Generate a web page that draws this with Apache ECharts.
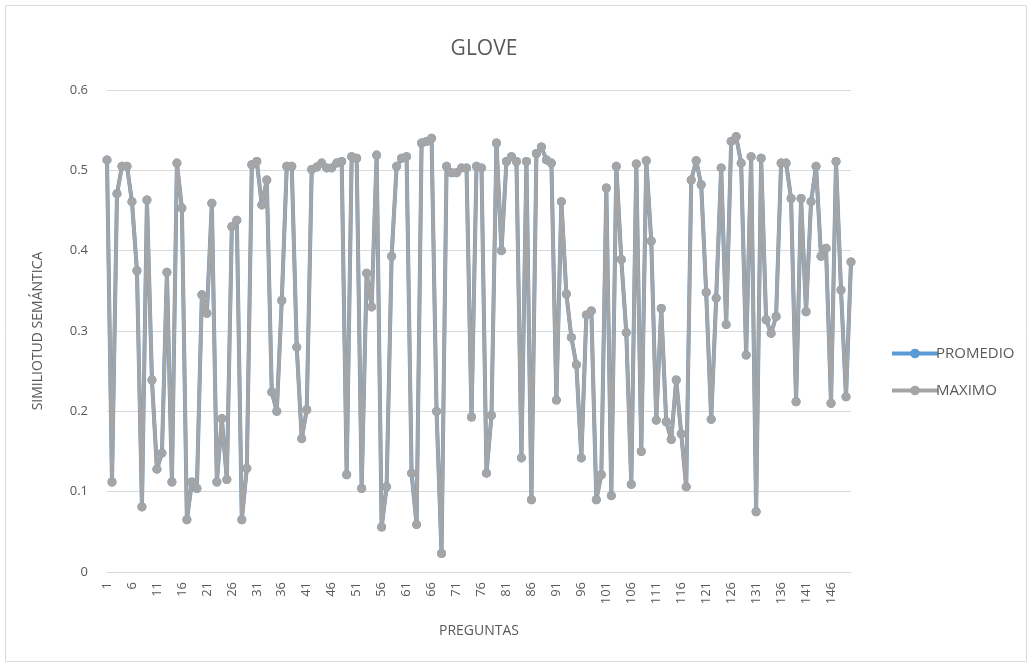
<!DOCTYPE html>
<html>
<head>
<meta charset="utf-8">
<script src="https://cdn.jsdelivr.net/npm/echarts@6/dist/echarts.min.js"></script>
<style>
  html, body { margin: 0; padding: 0; background: #fff; }
  #chart { width: 1032px; height: 667px; }
</style>
</head>
<body>
<div id="chart"></div>
<script>
// datos
var maximo = [
    0.513, 0.112, 0.471, 0.505, 0.505, 0.461, 0.375, 0.081, 0.463, 0.239,
    0.128, 0.148, 0.373, 0.112, 0.509, 0.453, 0.065, 0.112, 0.104, 0.345,
    0.322, 0.459, 0.112, 0.191, 0.115, 0.430, 0.438, 0.065, 0.129, 0.507,
    0.511, 0.457, 0.488, 0.224, 0.200, 0.338, 0.505, 0.505, 0.280, 0.166,
    0.202, 0.501, 0.504, 0.509, 0.503, 0.503, 0.509, 0.511, 0.121, 0.517,
    0.515, 0.104, 0.372, 0.330, 0.519, 0.056, 0.106, 0.393, 0.505, 0.515,
    0.517, 0.123, 0.059, 0.534, 0.536, 0.540, 0.200, 0.023, 0.505, 0.497,
    0.497, 0.503, 0.503, 0.193, 0.505, 0.503, 0.123, 0.195, 0.534, 0.400,
    0.511, 0.517, 0.511, 0.142, 0.511, 0.090, 0.521, 0.529, 0.513, 0.509,
    0.214, 0.461, 0.346, 0.292, 0.258, 0.142, 0.320, 0.325, 0.090, 0.121,
    0.478, 0.095, 0.505, 0.389, 0.298, 0.109, 0.508, 0.150, 0.512, 0.412,
    0.189, 0.328, 0.187, 0.165, 0.239, 0.172, 0.106, 0.488, 0.512, 0.482,
    0.348, 0.190, 0.341, 0.503, 0.308, 0.536, 0.542, 0.509, 0.270, 0.517,
    0.075, 0.515, 0.314, 0.297, 0.318, 0.509, 0.509, 0.465, 0.212, 0.465,
    0.324, 0.461, 0.505, 0.393, 0.403, 0.210, 0.511, 0.351, 0.218, 0.386
];
// el promedio queda oculto bajo el maximo
var promedio = maximo.slice();

var preguntas = [];
for (var i = 1; i <= maximo.length; i++) {
    preguntas.push(String(i));
}

var yTicks = ['0', '0.1', '0.2', '0.3', '0.4', '0.5', '0.6'];

var chart = echarts.init(document.getElementById('chart'));

var option = {
    animation: false,
    textStyle: {
        fontFamily: 'Open Sans, Noto Sans, sans-serif',
        color: '#595959'
    },
    graphic: [{
        type: 'rect',
        shape: { x: 5.5, y: 5.5, width: 1021, height: 656 },
        style: { fill: 'none', stroke: '#d9d9d9', lineWidth: 1 },
        silent: true
    }],
    title: {
        text: 'GLOVE',
        left: 479,
        top: 34,
        textAlign: 'center',
        textStyle: {
            fontSize: 21,
            fontWeight: 'normal',
            color: '#595959',
            fontFamily: 'Open Sans, Noto Sans, sans-serif'
        }
    },
    legend: {
        orient: 'vertical',
        left: 885,
        top: 341,
        itemWidth: 46,
        itemHeight: 12,
        itemGap: 22,
        lineStyle: { width: 4 },
        textStyle: {
            fontSize: 15,
            color: '#595959',
            padding: [0, 0, 0, -7]
        },
        data: ['PROMEDIO', 'MAXIMO']
    },
    grid: {
        left: 107,
        right: 181,
        top: 90,
        bottom: 95,
        containLabel: false
    },
    xAxis: {
        type: 'category',
        boundaryGap: false,
        data: preguntas,
        name: 'PREGUNTAS',
        nameLocation: 'middle',
        nameGap: 52,
        nameTextStyle: { fontSize: 14, color: '#595959' },
        axisLine: { lineStyle: { color: '#d9d9d9', width: 1 } },
        axisTick: { show: false },
        axisLabel: {
            interval: 4,
            rotate: 90,
            fontSize: 13,
            color: '#595959',
            margin: 10
        },
        splitLine: { show: false }
    },
    yAxis: {
        type: 'value',
        min: 0,
        max: 0.6,
        interval: 0.1,
        name: 'SIMILIOTUD SEMÁNTICA',
        nameLocation: 'middle',
        nameGap: 62,
        nameTextStyle: { fontSize: 14, color: '#595959' },
        axisLine: { show: false },
        axisTick: { show: false },
        axisLabel: {
            fontSize: 13,
            color: '#595959',
            margin: 19,
            formatter: function (v) {
                return yTicks[Math.round(v * 10)];
            }
        },
        splitLine: { lineStyle: { color: '#d9d9d9', width: 1 } }
    },
    series: [
        {
            name: 'PROMEDIO',
            type: 'line',
            data: promedio,
            symbol: 'circle',
            symbolSize: 9,
            showAllSymbol: true,
            lineStyle: { color: '#5b9bd5', width: 4 },
            itemStyle: { color: '#5b9bd5' }
        },
        {
            name: 'MAXIMO',
            type: 'line',
            data: maximo,
            symbol: 'circle',
            symbolSize: 9,
            showAllSymbol: true,
            lineStyle: { color: '#a5a5a5', width: 3.5 },
            itemStyle: { color: '#a5a5a5' }
        }
    ]
};

chart.setOption(option);
</script>
</body>
</html>
